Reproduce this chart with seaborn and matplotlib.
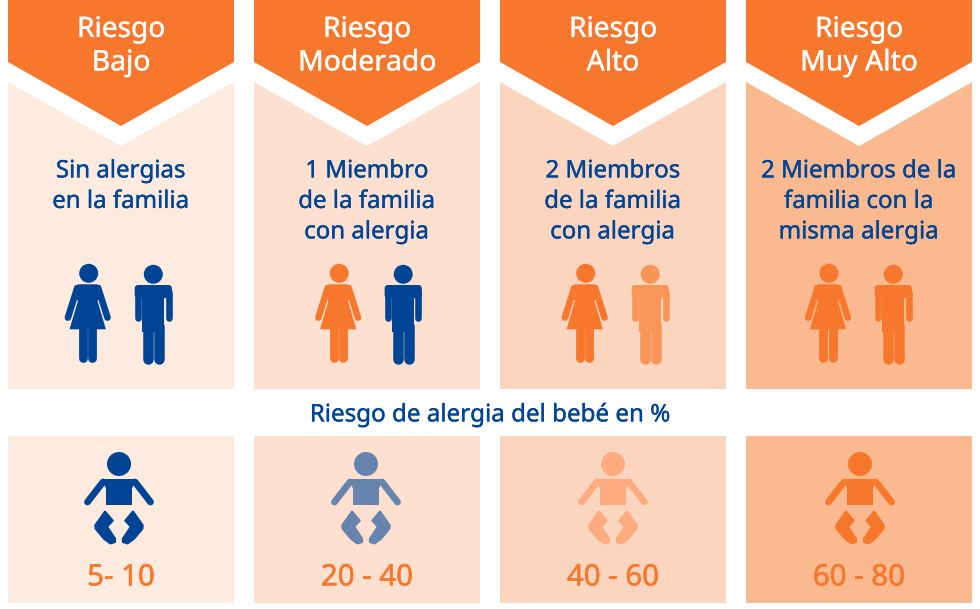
import matplotlib
matplotlib.use("Agg")
import matplotlib.pyplot as plt
import matplotlib.patheffects as pe
import numpy as np
import pandas as pd
import seaborn as sns
from matplotlib.patches import Circle, Polygon, Rectangle, FancyBboxPatch

# ---- content ----
riesgos = ["Bajo", "Moderado", "Alto", "Muy Alto"]
encabezados = ["Riesgo\nBajo", "Riesgo\nModerado", "Riesgo\nAlto", "Riesgo\nMuy Alto"]
familia = ["Sin alergias\nen la familia",
           "1 Miembro\nde la familia\ncon alergia",
           "2 Miembros\nde la familia\ncon alergia",
           "2 Miembros de la\nfamilia con la\nmisma alergia"]
rangos = ["5- 10", "20 - 40", "40 - 60", "60 - 80"]
subtitulo = "Riesgo de alergia del bebé en %"

# ---- colours ----
NAVY = "#004595"
ORANGE = "#F7782D"
panel_colors = ["#FEEBDF", "#FDE0CF", "#FCD5BE", "#FBB990"]
woman_colors = [NAVY, ORANGE, ORANGE, ORANGE]
man_colors = [NAVY, NAVY, "#FA9558", ORANGE]
baby_colors = [NAVY, "#6684AE", "#FFAB80", ORANGE]

# ---- layout (pixels) ----
W, H = 980, 609
PANEL_W, PITCH, FIRST_C = 226, 246, 121
PANEL_BOTTOM = 389
LOW_TOP, LOW_H = 436, 167
woman_x = [87.7, 338.2, 584.7, 828.0]
man_x = [153.3, 403.2, 650.3, 893.3]
baby_x = [119.0, 366.0, 613.0, 860.0]

sns.set_theme(style="white")
plt.rcParams["font.family"] = ["Noto Sans", "DejaVu Sans"]

fig = plt.figure(figsize=(W / 100, H / 100), dpi=100, facecolor="white")
ax = fig.add_axes([0, 0, 1, 1])

pal = dict(zip(riesgos, panel_colors))
top = pd.DataFrame({"riesgo": riesgos, "alto": [PANEL_BOTTOM] * 4})
low = pd.DataFrame({"riesgo": riesgos, "alto": [LOW_H] * 4})
kw = dict(x="riesgo", y="alto", hue="riesgo", palette=pal, saturation=1,
          width=PANEL_W / PITCH, legend=False, ax=ax, linewidth=0)
sns.barplot(data=top, **kw)
sns.barplot(data=low, bottom=LOW_TOP, **kw)
ax.set_xlim(-FIRST_C / PITCH, (W - FIRST_C) / PITCH)
ax.set_ylim(H, 0)
ax.set_axis_off()

# overlay in pixel coordinates for the pictograms and text
ov = fig.add_axes([0, 0, 1, 1], facecolor="none")
ov.set_xlim(0, W)
ov.set_ylim(H, 0)
ov.set_axis_off()


def label(x, y, s, color, size, bold=0.25):
    ov.text(x, y - 0.6, s, color=color, fontsize=size, ha="center", va="center_baseline", zorder=4,
            path_effects=[pe.withStroke(linewidth=bold, foreground=color)])


def stroke(x, y, width_px, color, z=3):
    ov.plot(x, y, color=color, lw=width_px * 0.72, solid_capstyle="round", zorder=z)


def woman(cx, c):
    ov.add_patch(Circle((cx + 1, 273.3), 9.5, fc=c, ec="none", zorder=3))
    ov.add_patch(Polygon([(cx - 9, 284.3), (cx + 9, 284.3), (cx + 13, 285.5), (cx + 14.5, 293),
                          (cx + 9.8, 301), (cx + 18.2, 329.3), (cx - 18.2, 329.3),
                          (cx - 9.8, 301), (cx - 14.5, 293), (cx - 13, 285.5)],
                         closed=True, fc=c, ec="none", zorder=3))
    for s in (-1, 1):
        stroke([cx + s * 10.6, cx + s * 19.8], [288.5, 317.6], 6.6, c)
        leg = cx + s * 4.7
        stroke([leg, leg], [325, 358.3], 8.8, c)


def man(cx, c):
    ov.add_patch(Circle((cx, 274.3), 9.5, fc=c, ec="none", zorder=3))
    ov.add_patch(FancyBboxPatch((cx - 15, 288.6), 30, 6, boxstyle="round,pad=3.6",
                                fc=c, ec="none", zorder=3))
    ov.add_patch(Rectangle((cx - 11, 292), 22, 40, fc=c, ec="none", zorder=3))
    for s in (-1, 1):
        stroke([cx + s * 15.2, cx + s * 15.2], [292, 318], 6.6, c)
        leg = cx + s * 5.4
        stroke([leg, leg], [326, 358.8], 10.5, c)


def baby(cx, c):
    y0 = 464
    pt = lambda zx, zy: (cx + zx / 3, y0 + zy / 3)
    ov.add_patch(Circle((cx, y0), 12, fc=c, ec="none", zorder=3))
    ov.add_patch(Polygon([pt(-50, 45), pt(50, 45), pt(40, 72), pt(-40, 72)],
                         closed=True, fc=c, ec="none", zorder=3))
    ov.add_patch(Rectangle((cx - 13.2, y0 + 15), 26.4, 26, fc=c, ec="none", zorder=3))
    leg = [(-42, 143), (-19, 170), (-36, 188), (-12, 224), (-12, 234), (-26, 238),
           (-45, 224), (-70, 194), (-71, 184)]
    for s in (-1, 1):
        stroke([cx + s * 16, cx + s * 31.5], [y0 + 18, y0 + 38], 6.8, c)
        xs = [-p[0] if s > 0 else p[0] for p in leg]
        ov.add_patch(Polygon([pt(x, p[1]) for x, p in zip(xs, leg)], closed=True,
                             fc=c, ec=c, lw=1.6, joinstyle="round", zorder=3))


for i in range(4):
    cx = FIRST_C + PITCH * i
    hw = PANEL_W / 2
    # white gap + orange arrow banner
    ov.add_patch(Polygon([(cx - hw, 0), (cx + hw, 0), (cx + hw, 82), (cx, 146), (cx - hw, 82)],
                         closed=True, fc="white", ec="none", zorder=1))
    ov.add_patch(Polygon([(cx - hw, 0), (cx + hw, 0), (cx + hw, 62), (cx, 126), (cx - hw, 62)],
                         closed=True, fc=ORANGE, ec="none", zorder=2))
    l1, l2 = encabezados[i].split("\n")
    label(cx, 27, l1, "white", 20.2)
    label(cx, 60, l2, "white", 20.4)
    for j, line in enumerate(familia[i].split("\n")):
        label(cx, 169 + 30.5 * j, line, NAVY, 17.3)
    woman(woman_x[i], woman_colors[i])
    man(man_x[i], man_colors[i])
    baby(baby_x[i], baby_colors[i])
    label(cx, 575, rangos[i], ORANGE, 21.2, bold=0.4)

label(490, 413, subtitulo, NAVY, 17.4)

fig.savefig("out.png", dpi=100, facecolor="white")
